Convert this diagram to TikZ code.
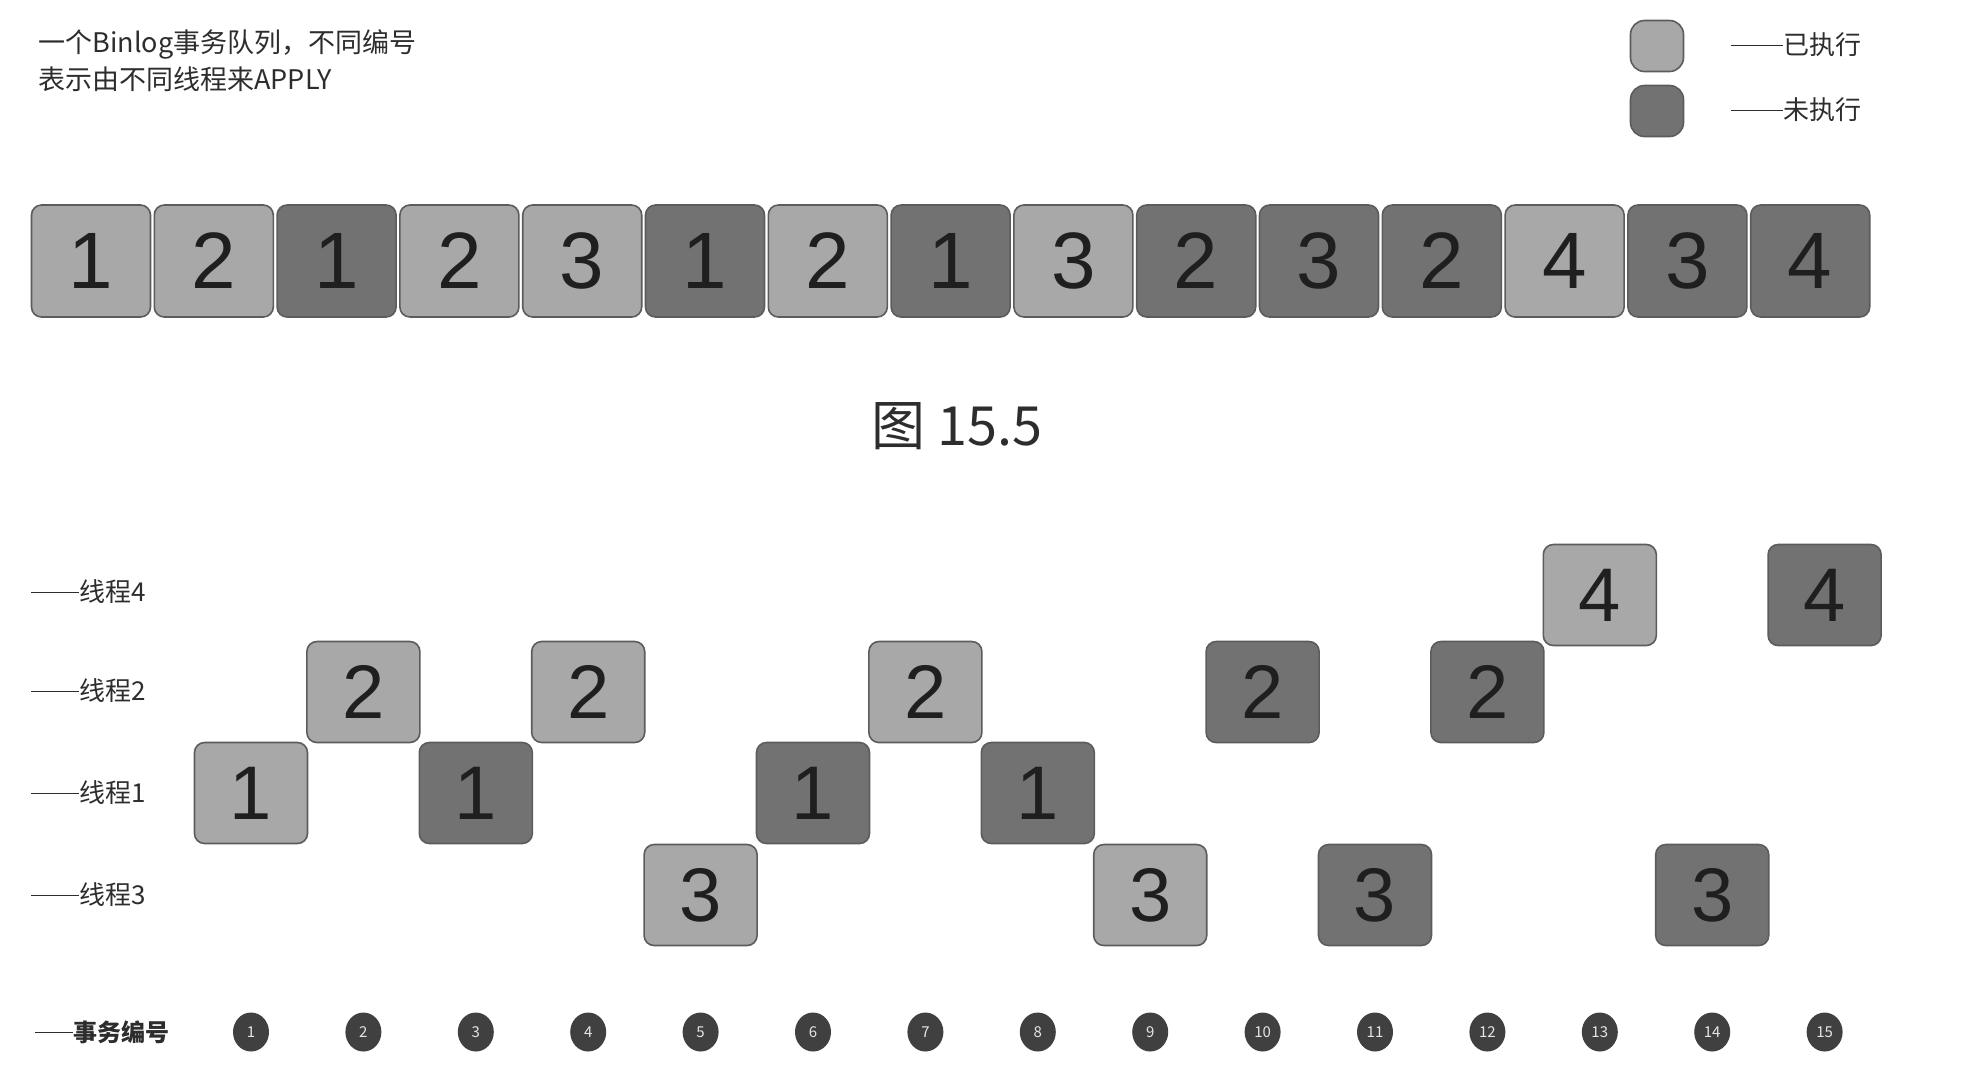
\documentclass[tikz,border=0pt]{standalone}
\usepackage{fontspec}
\setmainfont{Noto Sans CJK SC}
\newfontfamily\numfont{Liberation Sans}
\usetikzlibrary{shapes.geometric}

\definecolor{doneclr}{RGB}{168,168,168}
\definecolor{todoclr}{RGB}{114,114,114}
\definecolor{edgeclr}{RGB}{92,92,92}
\definecolor{txtclr}{RGB}{45,45,45}

\newcommand{\leadrule}[1]{\rule[0.33em]{#1}{0.55pt}}

\begin{document}
\begin{tikzpicture}[x=0.5pt,y=-0.5pt]
    \tikzstyle{every node}=[text=txtclr]
    \tikzstyle{qbox}=[draw=edgeclr,line width=0.8pt,rounded corners=5pt,
        minimum width=59.5pt,minimum height=56pt,inner sep=0pt,
        text=black!88,font=\numfont\fontsize{40}{40}\selectfont]
    \tikzstyle{tbox}=[qbox,minimum width=56.5pt,minimum height=50.5pt,
        font=\numfont\fontsize{38}{38}\selectfont]
    \tikzstyle{keybox}=[qbox,minimum width=26.5pt,minimum height=25.5pt,
        rounded corners=7pt]
    \tikzstyle{done}=[fill=doneclr]
    \tikzstyle{todo}=[fill=todoclr]
    \tikzstyle{tag}=[ellipse,fill=black!75,minimum width=18pt,
        minimum height=19.5pt,inner sep=0pt,text=white!90!black,
        font=\fontsize{7.5}{8}\selectfont]
    \tikzstyle{lbl}=[anchor=west,inner sep=0pt,font=\fontsize{13}{15}\selectfont]

    \useasboundingbox (0,0) rectangle (1974,1084);

    % note and legend
    \node[anchor=base west,inner sep=0pt,font=\fontsize{13.5}{16}\selectfont]
        (note1) at (38,52) {一个Binlog事务队列，不同编号};
    \node[anchor=base west,inner sep=0pt,font=\fontsize{13.5}{16}\selectfont]
        (note2) at (38,89) {表示由不同线程来APPLY};

    \node[keybox,done] (kdone) at (1657,46) {};
    \node[keybox,todo] (ktodo) at (1657,111) {};
    \node[lbl] (tdone) at (1731,45) {\leadrule{26pt}已执行};
    \node[lbl] (ttodo) at (1731,110) {\leadrule{26pt}未执行};

    % binlog queue
    \foreach \n/\s [count=\i] in {1/done,2/done,1/todo,2/done,3/done,1/todo,
        2/done,1/todo,3/done,2/todo,3/todo,2/todo,4/done,3/todo,4/todo}
        \node[qbox,\s] (q\i) at ({91+122.8*(\i-1)},261) {\n};

    \node[font=\fontsize{27}{30}\selectfont] (cap) at (957,426) {图 15.5};

    % threads
    \node[lbl] (l4) at (31,592) {\leadrule{24pt}线程4};
    \node[lbl] (l2) at (31,691) {\leadrule{24pt}线程2};
    \node[lbl] (l1) at (31,793) {\leadrule{24pt}线程1};
    \node[lbl] (l3) at (31,895) {\leadrule{24pt}线程3};
    \node[lbl,font=\fontsize{12}{14}\selectfont\bfseries] (lt) at (35,1032)
        {\leadrule{19pt}事务编号};

    \foreach \n/\s/\y [count=\i] in {1/done/793,2/done/692,1/todo/793,
        2/done/692,3/done/895,1/todo/793,2/done/692,1/todo/793,3/done/895,
        2/todo/692,3/todo/895,2/todo/692,4/done/595,3/todo/895,4/todo/595}
    {
        \node[tbox,\s] (t\i) at ({251+112.4*(\i-1)},\y) {\n};
        \node[tag] (c\i) at ({251+112.4*(\i-1)},1032) {\i};
    }
\end{tikzpicture}
\end{document}
